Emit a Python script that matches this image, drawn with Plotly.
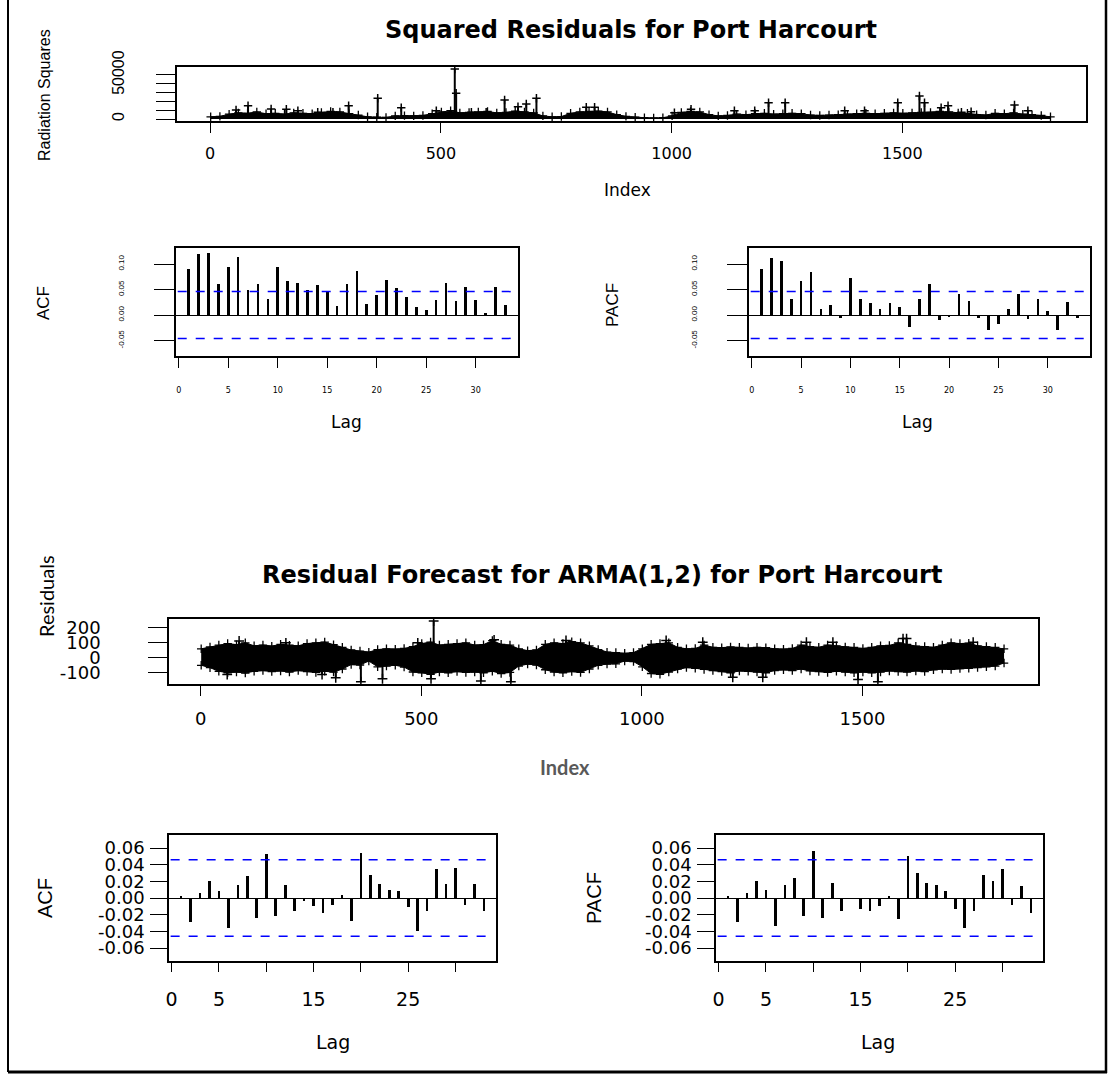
import math
import plotly.graph_objects as go

W, H = 1113, 1077
N = 1825

# ---------------- data ----------------
# envelope samples (every 20th observation) of the dense series
env_idx = list(range(1, 1826, 20))

sq_env = [2500, 3000, 5500, 7000, 6500, 8000, 6000, 6500, 5500, 7000,
          6500, 6000, 7500, 8500, 8000, 6000, 4500, 2500, 2000, 1800,
          3500, 3800, 3500, 4000, 6000, 8000, 9500, 7000, 7500, 8000,
          8500, 7000, 7500, 9000, 8000, 7000, 3500, 2500, 2800, 6500,
          8000, 8500, 9000, 8000, 5000, 3000, 2000, 1500, 1200, 1500,
          3500, 7500, 8500, 8000, 5000, 3500, 4000, 5500, 5000, 6000,
          6500, 5500, 6000, 6500, 6000, 4500, 4000, 4500, 5000, 5500,
          6000, 6500, 6000, 6500, 7000, 6500, 7000, 7500, 7500, 8500,
          8000, 7000, 6500, 5000, 4500, 6500, 6000, 7000, 5500, 5000,
          4000, 2500]

sq_spike_idx = [56, 82, 132, 165, 190, 233, 266, 300, 363, 414, 490, 530, 533, 566, 598,
                638, 667, 685, 707, 815, 833, 1006, 1042, 1136, 1180, 1210, 1246, 1375,
                1418, 1490, 1537, 1548, 1584, 1599, 1628, 1649, 1743, 1772]
sq_spike_val = [10200, 15100, 11400, 11000, 9500, 7600, 7600, 15000, 23500, 12900, 9500, 56800, 29200,
                7600, 7600, 21600, 14000, 17000, 23500, 13300, 13300, 7200, 11000, 9500, 9500,
                18500, 18500, 9500, 9500, 18500, 26100, 18500, 12900, 15000, 7600, 8300, 15900, 9500]

res_upper = [60, 72, 85, 95, 88, 100, 80, 85, 78, 90,
             84, 80, 95, 100, 105, 88, 70, 52, 45, 38,
             55, 60, 58, 62, 75, 95, 105, 85, 90, 95,
             100, 85, 88, 115, 90, 85, 60, 48, 52, 90,
             100, 95, 108, 100, 80, 55, 38, 35, 30, 35,
             60, 90, 95, 100, 70, 60, 62, 85, 70, 68,
             72, 70, 65, 70, 68, 60, 58, 62, 85, 75,
             70, 85, 80, 72, 70, 62, 70, 80, 82, 100,
             90, 78, 75, 70, 85, 100, 95, 98, 80, 75,
             70, 60]
res_lower = [-50, -66, -90, -100, -95, -102, -90, -85, -92, -88,
             -95, -85, -92, -98, -90, -96, -75, -45, -48, -22,
             -60, -55, -50, -62, -95, -100, -110, -95, -100, -92,
             -98, -95, -100, -90, -105, -98, -55, -42, -48, -80,
             -95, -100, -92, -98, -75, -50, -42, -40, -22, -25,
             -60, -105, -110, -95, -75, -65, -70, -78, -85, -92,
             -100, -88, -90, -95, -100, -85, -80, -85, -75, -88,
             -92, -98, -90, -95, -100, -95, -100, -95, -88, -92,
             -95, -88, -92, -80, -75, -78, -72, -70, -65, -60,
             -55, -35]

res_spike_idx = [60, 87, 193, 275, 306, 363, 412, 492, 522, 528, 635, 665, 703, 828,
                 1055, 1138, 1206, 1274, 1373, 1433, 1490, 1535, 1592, 1600, 1751]
res_spike_val = [-112, 112, 100, -112, -134, -160, -140, 100, -140, 245, -155, 120, -160, 116,
                 116, 104, -130, -130, 104, 104, -145, -160, 128, 128, 104]

lags = list(range(1, 34))
acf_sq = [0.090, 0.119, 0.121, 0.060, 0.095, 0.114, 0.050, 0.060, 0.031, 0.095,
          0.067, 0.062, 0.050, 0.058, 0.048, 0.018, 0.060, 0.086, 0.022, 0.039,
          0.069, 0.052, 0.036, 0.015, 0.010, 0.029, 0.062, 0.027, 0.055, 0.029,
          0.002, 0.055, 0.020]
pacf_sq = [0.090, 0.112, 0.105, 0.031, 0.067, 0.084, 0.012, 0.020, -0.005, 0.072,
           0.031, 0.024, 0.012, 0.024, 0.015, -0.024, 0.031, 0.060, -0.010, -0.003,
           0.041, 0.027, -0.005, -0.029, -0.018, 0.012, 0.041, -0.008, 0.031, 0.008,
           -0.029, 0.025, -0.005]
acf_res = [0.002, -0.029, 0.006, 0.020, 0.009, -0.036, 0.016, 0.026, -0.024, 0.053,
           -0.022, 0.016, -0.015, -0.003, -0.010, -0.018, -0.008, 0.004, -0.027, 0.054,
           0.028, 0.017, 0.010, 0.009, -0.011, -0.039, -0.016, 0.035, 0.017, 0.036,
           -0.008, 0.017, -0.016]
pacf_res = [0.002, -0.029, 0.006, 0.020, 0.010, -0.034, 0.016, 0.024, -0.022, 0.056,
            -0.024, 0.018, -0.015, 0.000, -0.013, -0.015, -0.010, 0.002, -0.025, 0.051,
            0.030, 0.018, 0.016, 0.009, -0.013, -0.036, -0.016, 0.028, 0.021, 0.035,
            -0.008, 0.014, -0.018]

idx_ticks = [0, 500, 1000, 1500]
sq_yticks = [0, 10000, 20000, 30000, 40000, 50000]
sq_yticktext = ["0", "", "", "", "", "50000"]
acf_sq_ticks = [-0.05, 0.0, 0.05, 0.10]
acf_sq_ticktext = ["-0.05", "0.00", "0.05", "0.10"]
lag_ticks = [0, 5, 10, 15, 20, 25, 30]
lag_text_small = ["0", "5", "10", "15", "20", "25", "30"]
lag_text_big = ["0", "5", "", "15", "", "25", ""]
res_yticks = [-100, 0, 100, 200]
acf_res_ticks = [-0.06, -0.04, -0.02, 0.0, 0.02, 0.04, 0.06]
acf_res_ticktext = ["-0.06", "-0.04", "-0.02", "0.00", "0.02", "0.04", "0.06"]

CI = 1.96 / math.sqrt(N)

# ---------------- helpers ----------------
RFONT = "DejaVu Sans"
VFONT = "Liberation Sans"


def dx(l, r):
    return [l / W, r / W]


def dy(t, b):
    return [1 - b / H, 1 - t / H]


def spikes(idx, val):
    xs, ys = [], []
    for i, v in zip(idx, val):
        xs += [i, i, None]
        ys += [0, v, None]
    return xs, ys


fig = go.Figure()

# --- top: squared residuals ---
fig.add_trace(go.Scatter(x=env_idx, y=sq_env, mode="lines+markers", fill="tozeroy",
                         fillcolor="black", line=dict(color="black", width=1),
                         marker=dict(symbol="cross-thin", size=6, line=dict(color="black", width=1.3)),
                         xaxis="x", yaxis="y"))
sx, sy = spikes(sq_spike_idx, sq_spike_val)
fig.add_trace(go.Scatter(x=sx, y=sy, mode="lines", line=dict(color="black", width=2),
                         xaxis="x", yaxis="y"))
fig.add_trace(go.Scatter(x=sq_spike_idx, y=sq_spike_val, mode="markers",
                         marker=dict(symbol="cross-thin", size=6, line=dict(color="black", width=1.5)),
                         xaxis="x", yaxis="y"))

# --- top ACF / PACF ---
fig.add_trace(go.Bar(x=lags, y=acf_sq, width=0.27, marker=dict(color="black", line=dict(width=0)),
                     xaxis="x2", yaxis="y2"))
fig.add_trace(go.Bar(x=lags, y=pacf_sq, width=0.27, marker=dict(color="black", line=dict(width=0)),
                     xaxis="x3", yaxis="y3"))

# --- residual series ---
fig.add_trace(go.Scatter(x=env_idx, y=res_lower, mode="lines+markers", line=dict(color="black", width=1),
                         marker=dict(symbol="cross-thin", size=6, line=dict(color="black", width=1.3)),
                         xaxis="x4", yaxis="y4"))
fig.add_trace(go.Scatter(x=env_idx, y=res_upper, mode="lines+markers", fill="tonexty", fillcolor="black",
                         line=dict(color="black", width=1),
                         marker=dict(symbol="cross-thin", size=6, line=dict(color="black", width=1.3)),
                         xaxis="x4", yaxis="y4"))
rx, ry = spikes(res_spike_idx, res_spike_val)
fig.add_trace(go.Scatter(x=rx, y=ry, mode="lines", line=dict(color="black", width=2),
                         xaxis="x4", yaxis="y4"))
fig.add_trace(go.Scatter(x=res_spike_idx, y=res_spike_val, mode="markers",
                         marker=dict(symbol="cross-thin", size=7, line=dict(color="black", width=1.5)),
                         xaxis="x4", yaxis="y4"))

# --- bottom ACF / PACF ---
fig.add_trace(go.Bar(x=lags, y=acf_res, width=0.28, marker=dict(color="black", line=dict(width=0)),
                     xaxis="x5", yaxis="y5"))
fig.add_trace(go.Bar(x=lags, y=pacf_res, width=0.28, marker=dict(color="black", line=dict(width=0)),
                     xaxis="x6", yaxis="y6"))


def axis(domain, rng, tickvals, ticktext, fsize, ticklen, standoff, anchor, family=RFONT,
         tickangle=0, zeroline=False):
    return dict(domain=domain, range=rng, tickmode="array", tickvals=tickvals, ticktext=ticktext,
                ticks="outside", ticklen=ticklen, tickwidth=1.2, tickcolor="black",
                showline=True, mirror=True, linecolor="black", linewidth=1.5,
                showgrid=False, zeroline=zeroline, zerolinecolor="black", zerolinewidth=1.2,
                tickfont=dict(family=family, size=fsize, color="black"), automargin=False,
                ticklabelstandoff=standoff, anchor=anchor, tickangle=tickangle, fixedrange=True)


idx_rng = [1 - 0.04 * (N - 1), N + 0.04 * (N - 1)]
lag_rng = [1 - 0.04 * 32, 33 + 0.04 * 32]

layout_axes = dict(
    xaxis=axis(dx(177, 1086), idx_rng, idx_ticks, [str(t) for t in idx_ticks], 16, 10, 7, "y"),
    yaxis=axis(dy(67, 121), [-2272, 59072], sq_yticks, sq_yticktext, 16, 19, 26, "x",
               family=VFONT, tickangle=-90),
    xaxis2=axis(dx(176, 518), lag_rng, lag_ticks, lag_text_small, 8, 10, 16, "y2"),
    yaxis2=axis(dy(248, 356), [-0.0804, 0.1314], acf_sq_ticks, acf_sq_ticktext, 8, 20, 27, "x2",
                family=VFONT, tickangle=-90, zeroline=True),
    xaxis3=axis(dx(749, 1090), lag_rng, lag_ticks, lag_text_small, 8, 10, 16, "y3"),
    yaxis3=axis(dy(248, 356), [-0.0804, 0.1314], acf_sq_ticks, acf_sq_ticktext, 8, 20, 27, "x3",
                family=VFONT, tickangle=-90, zeroline=True),
    xaxis4=axis(dx(169, 1038), idx_rng, idx_ticks, [str(t) for t in idx_ticks], 18, 10, 8, "y4"),
    yaxis4=axis(dy(619, 684), [-175, 259], res_yticks, [str(t) for t in res_yticks], 18, 19, 44, "x4"),
    xaxis5=axis(dx(169, 496), lag_rng, lag_ticks, lag_text_big, 19, 9, 11, "y5"),
    yaxis5=axis(dy(835, 961), [-0.0756, 0.0756], acf_res_ticks, acf_res_ticktext, 18, 17, 2, "x5",
                zeroline=True),
    xaxis6=axis(dx(716, 1043), lag_rng, lag_ticks, lag_text_big, 19, 9, 11, "y6"),
    yaxis6=axis(dy(835, 961), [-0.0756, 0.0756], acf_res_ticks, acf_res_ticktext, 18, 17, 2, "x6",
                zeroline=True),
)

shapes = []
for k in ["2", "3", "5", "6"]:
    for c in (CI, -CI):
        shapes.append(dict(type="line", xref=f"x{k} domain", yref=f"y{k}", x0=0.005, x1=0.985,
                           y0=c, y1=c, line=dict(color="#0000ff", width=1.5, dash="9px,9px")))
# outer frame of the figure panel
shapes.append(dict(type="line", xref="paper", yref="paper", x0=8 / W, x1=8 / W, y0=1 - 1072 / H, y1=1,
                   line=dict(color="black", width=2)))
shapes.append(dict(type="line", xref="paper", yref="paper", x0=1106 / W, x1=1106 / W, y0=1 - 1073 / H, y1=1,
                   line=dict(color="black", width=2.5)))
shapes.append(dict(type="line", xref="paper", yref="paper", x0=8 / W, x1=1107 / W, y0=1 - 1072 / H,
                   y1=1 - 1072 / H, line=dict(color="black", width=3)))


def ann(text, px, py, size, family=RFONT, angle=0, bold=False, color="black"):
    return dict(text=f"<b>{text}</b>" if bold else text, x=px / W, y=1 - py / H, xref="paper", yref="paper",
                showarrow=False, xanchor="center", yanchor="middle", textangle=angle,
                font=dict(family=family, size=size, color=color))


annotations = [
    ann("Squared Residuals for Port Harcourt", 631, 30, 24, bold=True),
    ann("Radiation Squares", 45, 95, 16, family=VFONT, angle=-90),
    ann("Index", 627, 190, 17),
    ann("ACF", 44, 303, 17, family=VFONT, angle=-90),
    ann("Lag", 346, 422, 17),
    ann("PACF", 612, 305, 17, family=VFONT, angle=-90),
    ann("Lag", 917, 422, 17),
    ann("Residuals", 46, 596, 20, family="Lato", angle=-90),
    ann("Residual Forecast for ARMA(1,2) for Port Harcourt", 602, 575, 24, bold=True),
    ann("Index", 565, 767, 20, family="Lato", bold=True, color="#595959"),
    ann("ACF", 45, 898, 20, family=VFONT, angle=-90),
    ann("PACF", 594, 898, 20, family=VFONT, angle=-90),
    ann("Lag", 333, 1042, 19),
    ann("Lag", 878, 1042, 19),
]

fig.update_layout(
    width=W, height=H, autosize=False,
    margin=dict(l=0, r=0, t=0, b=0, pad=0, autoexpand=False),
    paper_bgcolor="white", plot_bgcolor="white",
    showlegend=False, bargap=0,
    shapes=shapes, annotations=annotations,
    **layout_axes,
)

fig.write_html("out.html", config={"displayModeBar": False},
               post_script="document.body.style.margin='0px';")
